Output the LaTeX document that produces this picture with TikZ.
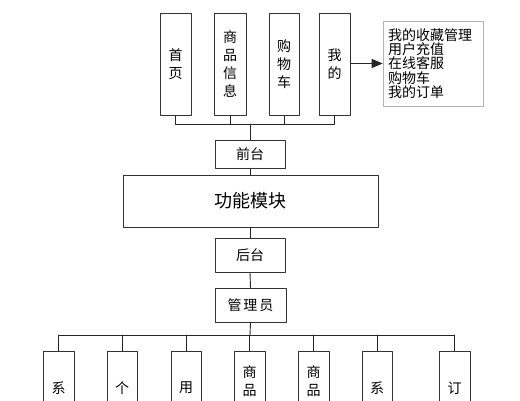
\documentclass[tikz,border=0pt]{standalone}
\usepackage{fontspec}
\setmainfont{Noto Sans CJK SC}
\usetikzlibrary{arrows.meta,shadows}

\tikzset{
  box/.style={draw=black!80, fill=white, line width=0.8pt, inner sep=0pt, align=center,
    font=\fontsize{14}{18}\selectfont},
  colbox/.style={box, minimum width=31pt, minimum height=102pt},
  stagebox/.style={box, minimum width=70pt, minimum height=30pt},
  lowbox/.style={box, minimum width=31pt, minimum height=110pt},
  lowtext/.style={inner sep=0pt, align=center, font=\fontsize{14}{18}\selectfont},
  infobox/.style={draw=black!30, fill=white, line width=0.6pt, inner xsep=5pt, inner ysep=0pt,
    align=left, text width=90pt, minimum height=85pt, font=\fontsize{14}{14.3}\selectfont,
    drop shadow={fill=blue!12, shadow xshift=1.2pt, shadow yshift=-1.2pt, opacity=1}},
  link/.style={draw=black!85, line width=0.9pt}
}

\begin{document}
\begin{tikzpicture}[line cap=round,line join=round,>={Triangle[length=11pt,width=9pt]},x=1pt,y=-1pt]
\useasboundingbox (0,0) rectangle (520,400);
% top row
\node[colbox] (shouye) at (175.5,64) {首\\页};
\node[colbox, minimum width=32pt] (shangpin) at (230,64) {商\\品\\信\\息};
\node[colbox, minimum width=30pt] (gouwu) at (284,64) {购\\物\\车};
\node[colbox] (wode) at (334.5,64) {我\\的};
\node[infobox] (wodelist) at (433,63.5) {我的收藏管理\\用户充值\\在线客服\\购物车\\我的订单};
\draw[link,->] (wode.east |- wodelist.west) -- (wodelist.west);
% middle column
\node[stagebox, minimum height=28pt] (qiantai) at (250,154) {前台};
\node[box, minimum width=255pt, minimum height=52pt, font=\fontsize{18}{20}\selectfont] (gongneng) at (250.5,201) {功能模块};
\node[stagebox, minimum height=34pt] (houtai) at (250,255) {后台};
\node[stagebox, minimum width=71pt, minimum height=34pt] (guanli) at (250.5,305) {管\hspace{2pt}理\hspace{2pt}员};
\coordinate (topbus) at (250,124);
\foreach \b in {shouye,shangpin,gouwu,wode}
  \draw[link] (\b.south) -- (\b.south |- topbus);
\draw[link] (shouye.south |- topbus) -- (wode.south |- topbus);
\draw[link] (topbus) -- (qiantai.north);
\draw[link] (qiantai.south) -- (qiantai.south |- gongneng.north);
\draw[link] (houtai.north |- gongneng.south) -- (houtai.north);
\draw[link] (houtai.south) -- (guanli.north);
% bottom row
\coordinate (lowbus) at (250,335);
\node[lowbox] (xitong) at (58.5,406) {};
\node[lowbox, minimum width=30pt] (geren) at (122,406) {};
\node[lowbox, minimum width=30pt] (yonghu) at (186,406) {};
\node[lowbox] (shangpina) at (249.5,406) {};
\node[lowbox] (shangpinb) at (313.5,406) {};
\node[lowbox, minimum width=30pt] (xitongb) at (377,406) {};
\node[lowbox] (dingdan) at (454.5,406) {};
\node[lowtext] (xitongt) at (58.5,388) {系};
\node[lowtext] (gerent) at (122,388) {个};
\node[lowtext] (yonghut) at (186,388) {用};
\node[lowtext] (shangpinat) at (249.5,381) {商\\品};
\node[lowtext] (shangpinbt) at (313.5,381) {商\\品};
\node[lowtext] (xitongbt) at (377,388) {系};
\node[lowtext] (dingdant) at (454.5,388) {订};
\draw[link] (guanli.south) -- (lowbus);
\draw[link] (xitong.north |- lowbus) -- (dingdan.north |- lowbus);
\foreach \b in {xitong,geren,yonghu,shangpina,shangpinb,xitongb,dingdan}
  \draw[link] (\b.north |- lowbus) -- (\b.north);
\end{tikzpicture}
\end{document}
